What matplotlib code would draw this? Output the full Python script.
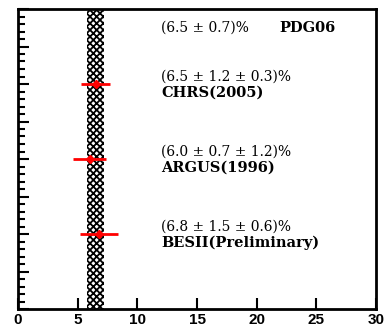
import numpy as np
import matplotlib.pyplot as plt
from matplotlib.ticker import MultipleLocator

plt.rcParams['hatch.linewidth'] = 1.3

# world average band
pdg_val = 6.5
pdg_err = 0.7

# individual measurements (value, stat, syst) and their row
names = ["CHRS(2005)", "ARGUS(1996)", "BESII(Preliminary)"]
values = [6.5, 6.0, 6.8]
stat_err = [1.2, 0.7, 1.5]
syst_err = [0.3, 1.2, 0.6]
rows = [6, 4, 2]

x_ticks = [0, 5, 10, 15, 20, 25, 30]

fig = plt.figure(figsize=(3.88, 3.30), dpi=100)
ax = fig.add_axes([18 / 388, 21 / 330, 358 / 388, 300 / 330])

ax.set_xlim(0, 30)
ax.set_ylim(0, 8)

ax.fill_betweenx([0, 8], pdg_val - pdg_err, pdg_val + pdg_err,
                 facecolor='white', edgecolor='black', hatch='xxxxx', linewidth=0)

tot_err = np.sqrt(np.array(stat_err) ** 2 + np.array(syst_err) ** 2)
ax.errorbar(values, rows, xerr=tot_err, fmt='D', color='red', markersize=4,
            elinewidth=2, capsize=0, zorder=5)

serif = 'DejaVu Serif'
ax.text(12, 7.5, "(%.1f ± %.1f)%%" % (pdg_val, pdg_err), fontsize=10,
        family=serif, va='center', ha='left')
ax.text(21.9, 7.5, "PDG06", fontsize=10.5, fontweight='bold', family=serif,
        va='center', ha='left')
for name, v, s, e, r in zip(names, values, stat_err, syst_err, rows):
    ax.text(12, r + 0.2, "(%.1f ± %.1f ± %.1f)%%" % (v, s, e),
            fontsize=10, family=serif, va='center', ha='left')
    ax.text(12, r - 0.24, name, fontsize=10.5, fontweight='bold', family=serif,
            va='center', ha='left')

ax.set_xticks(x_ticks)
ax.set_xticklabels([str(t) for t in x_ticks], fontweight='bold', fontsize=11,
                   family='Liberation Sans')
ax.yaxis.set_major_locator(MultipleLocator(1))
ax.yaxis.set_minor_locator(MultipleLocator(0.2))
ax.set_yticklabels([])
ax.tick_params(axis='x', direction='in', length=8, width=1.5, top=False, pad=3)
ax.tick_params(axis='y', which='major', direction='in', length=8, width=1.5, right=False)
ax.tick_params(axis='y', which='minor', direction='in', length=5, width=1.5, right=False)
for sp in ax.spines.values():
    sp.set_linewidth(2)

fig.savefig("out.png", dpi=100)
